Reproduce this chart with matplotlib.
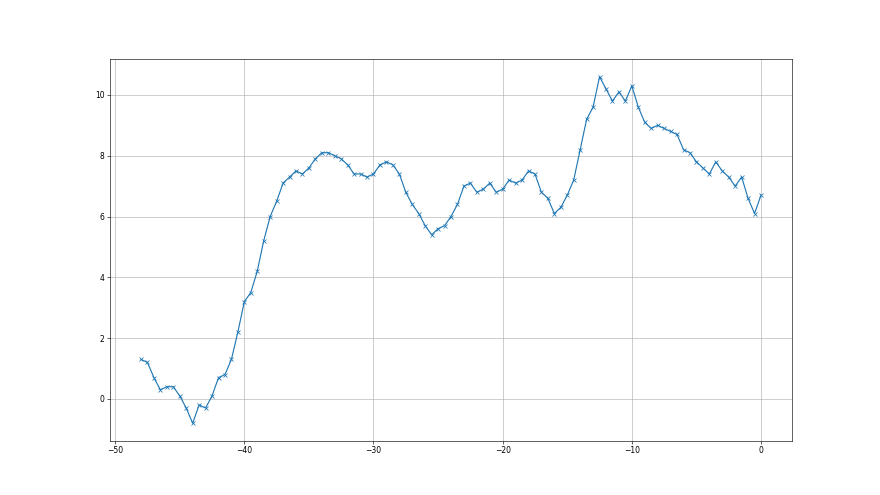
import numpy as np
import matplotlib
matplotlib.use("Agg")
import matplotlib.pyplot as plt

# x runs from -48 to 0 in half steps
xStart = -48.0
xStep = 0.5
yValues = [1.3, 1.2, 0.7, 0.3, 0.4, 0.4, 0.1, -0.3, -0.8, -0.2,
           -0.3, 0.1, 0.7, 0.8, 1.3, 2.2, 3.2, 3.5, 4.2, 5.2,
           6.0, 6.5, 7.1, 7.3, 7.5, 7.4, 7.6, 7.9, 8.1, 8.1,
           8.0, 7.9, 7.7, 7.4, 7.4, 7.3, 7.4, 7.7, 7.8, 7.7,
           7.4, 6.8, 6.4, 6.1, 5.7, 5.4, 5.6, 5.7, 6.0, 6.4,
           7.0, 7.1, 6.8, 6.9, 7.1, 6.8, 6.9, 7.2, 7.1, 7.2,
           7.5, 7.4, 6.8, 6.6, 6.1, 6.3, 6.7, 7.2, 8.2, 9.2,
           9.6, 10.6, 10.2, 9.8, 10.1, 9.8, 10.3, 9.6, 9.1, 8.9,
           9.0, 8.9, 8.8, 8.7, 8.2, 8.1, 7.8, 7.6, 7.4, 7.8,
           7.5, 7.3, 7.0, 7.3, 6.6, 6.1, 6.7]

xValues = xStart + xStep * np.arange(len(yValues))

fig = plt.figure(figsize=(16, 9), dpi=55)
ax = fig.add_subplot(111)
ax.plot(xValues, yValues, marker="x")
ax.grid(True)
fig.savefig("out.png", dpi=55)
